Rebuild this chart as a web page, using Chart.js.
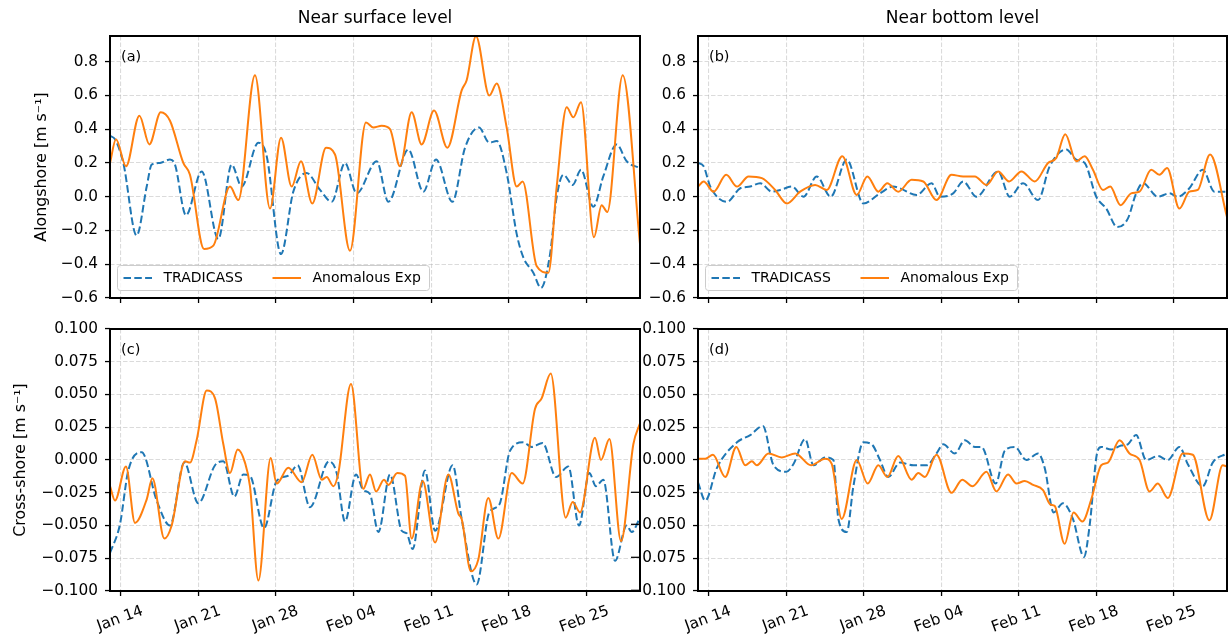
<!DOCTYPE html>
<html>
<head>
<meta charset="utf-8">
<script src="https://cdn.jsdelivr.net/npm/chart.js@4.4.0/dist/chart.umd.min.js"></script>
<style>
  html, body { margin: 0; padding: 0; background: #fff; }
  #fig { position: relative; width: 1228px; height: 637px; overflow: hidden; background: #fff; }
  #fig canvas { position: absolute; }
</style>
</head>
<body>
<div id="fig">
  <canvas id="panelA" width="660" height="320" style="left:0;top:0"></canvas>
  <canvas id="panelB" width="588" height="320" style="left:640px;top:0"></canvas>
  <canvas id="panelC" width="660" height="337" style="left:0;top:300px"></canvas>
  <canvas id="panelD" width="628" height="337" style="left:600px;top:300px"></canvas>
</div>
<script>
// ---- time axis (day of year, Jan 1 = 1) ----
const X_MIN = 13.04;
const X_MAX = 60.83;
const xTickDays = [14, 21, 28, 35, 42, 49, 56];
const xTickLabels = ['Jan 14', 'Jan 21', 'Jan 28', 'Feb 04', 'Feb 11', 'Feb 18', 'Feb 25'];

const alongTicks = [-0.6, -0.4, -0.2, 0, 0.2, 0.4, 0.6, 0.8];
const crossTicks = [-0.1, -0.075, -0.05, -0.025, 0, 0.025, 0.05, 0.075, 0.1];

const seriesNames = ['TRADICASS', 'Anomalous Exp'];

// ---- (a) alongshore, near surface ----
const surfAlongTradDays = [13.04,13.49,14.24,15.44,16.35,16.80,17.55,18.45,18.90,19.89,21.31,22.81,24.01,24.91,26.42,27.17,28.46,29.57,30.77,31.98,33.03,34.23,35.28,37.09,38.14,39.94,41.29,42.44,43.91,45.05,46.31,47.24,47.91,48.81,49.71,50.31,51.21,51.90,52.72,53.32,53.92,54.76,55.51,56.62,57.52,58.73,59.63,60.83];
const surfAlongTradVals = [0.36,0.34,0.20,-0.23,0.06,0.19,0.20,0.22,0.19,-0.11,0.15,-0.25,0.19,0.06,0.32,0.24,-0.34,0.03,0.14,0.04,-0.03,0.20,0.02,0.21,-0.03,0.28,0.03,0.22,-0.03,0.29,0.41,0.32,0.33,0.14,-0.22,-0.36,-0.45,-0.54,-0.34,0.00,0.13,0.07,0.16,-0.06,0.12,0.31,0.21,0.17];
const surfAlongAnomDays = [13.04,13.58,14.48,15.69,16.59,17.61,18.45,19.65,20.25,21.52,22.36,23.86,24.61,26.11,27.47,28.46,29.42,30.26,31.28,32.52,33.33,34.68,36.12,36.79,37.54,38.29,39.19,40.24,41.14,42.26,43.46,44.75,45.20,46.04,47.24,47.91,48.81,49.71,50.25,51.51,52.57,53.32,54.22,54.82,55.51,56.68,57.37,57.88,59.27,60.83];
const surfAlongAnomVals = [0.20,0.34,0.18,0.48,0.31,0.50,0.45,0.20,0.13,-0.31,-0.29,0.06,-0.02,0.72,-0.07,0.35,0.06,0.21,-0.04,0.29,0.25,-0.32,0.44,0.41,0.42,0.40,0.18,0.50,0.31,0.51,0.29,0.63,0.69,0.95,0.60,0.67,0.41,0.06,0.09,-0.41,-0.45,0.06,0.53,0.47,0.56,-0.24,-0.05,-0.09,0.72,-0.28];

// ---- (b) alongshore, near bottom ----
const bottAlongTradDays = [13.04,13.55,14.15,15.66,16.86,17.76,18.66,19.71,20.46,21.52,22.57,23.77,25.03,26.48,27.98,29.48,30.68,31.28,32.79,34.14,34.89,36.09,37.00,38.20,40.15,41.20,42.41,43.76,44.81,46.31,47.21,47.97,49.02,49.92,50.91,51.87,52.62,53.23,54.58,55.63,56.38,57.43,58.64,59.69,60.83];
const bottAlongTradVals = [0.20,0.18,0.06,-0.03,0.05,0.06,0.08,0.03,0.04,0.06,0.00,0.12,0.00,0.22,-0.04,0.02,0.06,0.05,0.01,0.08,0.00,0.02,0.09,0.00,0.15,0.00,0.08,-0.02,0.18,0.28,0.22,0.20,0.00,-0.07,-0.18,-0.13,0.02,0.08,0.00,0.02,0.00,0.05,0.16,0.03,0.03];
const bottAlongAnomDays = [13.04,13.55,14.45,15.59,16.56,17.61,18.81,20.01,21.07,22.27,23.62,24.67,26.08,27.38,28.34,29.33,30.14,31.13,32.34,33.39,34.59,35.94,36.99,38.05,39.10,40.15,41.14,42.26,43.46,44.66,45.41,46.22,47.21,47.97,48.72,49.62,50.28,51.21,52.17,52.93,53.98,54.73,55.42,56.53,57.43,58.19,59.30,60.83];
const bottAlongAnomVals = [0.06,0.09,0.03,0.13,0.06,0.12,0.11,0.04,-0.04,0.03,0.07,0.04,0.24,0.01,0.12,0.03,0.08,0.03,0.10,0.09,-0.02,0.13,0.12,0.12,0.07,0.15,0.09,0.15,0.09,0.20,0.23,0.37,0.21,0.24,0.16,0.04,0.06,-0.05,0.02,0.03,0.16,0.13,0.17,-0.07,0.03,0.04,0.25,-0.12];

// ---- (c) cross-shore, near surface ----
const surfCrossTradDays = [13.04,13.94,14.69,15.90,17.25,18.45,19.74,21.00,22.51,23.26,24.25,25.06,25.66,26.93,28.07,29.12,29.96,31.07,32.79,33.48,34.23,35.22,35.88,36.48,37.24,38.29,39.34,39.79,40.33,41.44,42.35,43.94,44.75,46.10,47.24,48.15,49.11,50.31,51.06,52.05,53.26,54.37,55.33,56.26,56.86,57.52,58.58,59.63,60.08,60.83];
const surfCrossTradVals = [-0.071,-0.049,-0.008,0.006,-0.031,-0.050,-0.002,-0.033,-0.004,-0.001,-0.028,-0.011,-0.012,-0.052,-0.016,-0.012,-0.004,-0.036,-0.001,-0.010,-0.047,-0.011,-0.023,-0.026,-0.055,-0.011,-0.054,-0.056,-0.068,-0.008,-0.054,-0.004,-0.045,-0.095,-0.040,-0.034,0.007,0.0135,0.010,0.013,-0.013,-0.005,-0.050,-0.010,-0.020,-0.015,-0.077,-0.050,-0.055,-0.044];
const surfCrossAnomDays = [13.04,13.49,14.48,15.29,16.35,16.86,17.94,18.60,19.80,20.25,20.85,21.76,22.51,23.26,23.86,24.55,25.21,25.66,26.42,27.53,28.07,29.12,30.32,31.28,32.13,32.58,33.18,33.63,34.77,35.88,36.48,37.03,37.75,38.14,38.95,39.64,40.24,41.23,42.35,43.55,44.45,44.75,45.59,46.25,47.15,48.06,49.26,50.25,51.36,51.96,52.78,54.13,54.76,55.42,56.77,57.31,58.07,59.12,60.23,60.83];
const surfCrossAnomVals = [-0.020,-0.031,-0.005,-0.048,-0.030,-0.014,-0.060,-0.050,-0.001,-0.002,0.015,0.053,0.047,0.012,-0.010,0.008,-0.002,-0.020,-0.092,0.0015,-0.018,-0.006,-0.017,0.004,-0.015,-0.013,-0.020,-0.010,0.058,-0.022,-0.011,-0.024,-0.015,-0.019,-0.010,-0.012,-0.060,-0.016,-0.063,-0.011,-0.041,-0.045,-0.085,-0.076,-0.029,-0.060,-0.010,-0.018,0.039,0.047,0.066,-0.044,-0.032,-0.040,0.017,0.000,0.016,-0.062,0.012,0.028];

// ---- (d) cross-shore, near bottom ----
const bottCrossTradDays = [13.04,13.70,14.75,16.56,17.76,18.90,19.86,21.01,21.67,22.72,23.47,24.52,25.27,25.72,26.48,27.08,27.98,28.73,29.48,30.23,31.28,32.49,33.69,34.59,35.19,36.24,37.15,38.05,38.65,39.94,40.75,41.65,42.71,43.76,44.36,45.17,46.01,46.91,47.91,48.42,49.11,49.47,50.37,51.27,51.87,52.62,53.53,54.58,55.48,56.53,57.28,58.64,59.54,60.83];
const bottCrossTradVals = [-0.017,-0.031,-0.006,0.0135,0.019,0.026,-0.004,-0.009,-0.003,0.016,-0.004,0.002,0.000,-0.045,-0.055,-0.020,0.0135,0.012,0.000,-0.013,-0.002,-0.004,-0.004,0.005,0.012,0.005,0.015,0.010,0.010,-0.018,0.007,0.010,0.000,0.005,-0.006,-0.040,-0.033,-0.045,-0.074,-0.050,0.006,0.010,0.008,0.011,0.012,0.019,0.000,0.003,0.000,0.010,-0.003,-0.020,-0.002,0.005];
const bottCrossAnomDays = [13.04,13.70,14.39,15.50,16.50,17.31,17.91,18.36,19.41,20.61,21.82,23.25,24.52,25.12,26.02,27.38,28.37,29.33,30.14,31.13,32.34,32.94,33.54,34.59,35.94,36.91,37.84,39.10,40.00,41.05,41.81,42.56,43.31,44.21,44.87,45.26,46.16,46.97,47.76,48.57,49.47,50.07,51.12,52.02,52.93,53.83,54.58,55.48,56.83,57.74,59.24,60.44,60.83];
const bottCrossAnomVals = [0.001,0.001,0.004,-0.013,0.010,-0.004,-0.001,-0.004,0.005,0.002,0.005,-0.004,0.001,-0.003,-0.045,0.000,-0.018,-0.004,-0.013,0.003,-0.015,-0.010,-0.013,0.004,-0.025,-0.015,-0.020,-0.009,-0.024,-0.011,-0.018,-0.016,-0.019,-0.023,-0.034,-0.035,-0.064,-0.040,-0.047,-0.030,-0.004,-0.002,0.015,0.005,0.000,-0.024,-0.018,-0.029,0.005,0.004,-0.046,-0.004,-0.005];

const BLUE = '#1f77b4';
const ORANGE = '#ff7f0e';
const GRID = 'rgba(176,176,176,0.45)';
const FONT = 'DejaVu Sans';

Chart.defaults.font.family = FONT;
Chart.defaults.color = '#000';

// frame, panel tag and the in-axes legend
const panelDecor = {
  id: 'panelDecor',
  afterDraw(chart, args, opts) {
    const { ctx, chartArea: a } = chart;
    ctx.save();
    if (opts.legend) {
      const bx = a.left + 7.5, by = a.bottom - 32.5, bw = 312, bh = 25;
      ctx.beginPath();
      if (ctx.roundRect) ctx.roundRect(bx, by, bw, bh, 3); else ctx.rect(bx, by, bw, bh);
      ctx.fillStyle = 'rgba(255,255,255,0.8)';
      ctx.fill();
      ctx.strokeStyle = '#cccccc';
      ctx.lineWidth = 1;
      ctx.stroke();
      const cy = by + bh / 2;
      const slots = [6, 155];
      chart.data.datasets.forEach((ds, i) => {
        const x0 = bx + slots[i];
        ctx.strokeStyle = ds.borderColor;
        ctx.lineWidth = ds.borderWidth;
        ctx.setLineDash(ds.borderDash || []);
        ctx.beginPath();
        ctx.moveTo(x0, cy);
        ctx.lineTo(x0 + 28.5, cy);
        ctx.stroke();
        ctx.setLineDash([]);
        ctx.fillStyle = '#000';
        ctx.font = '14px "' + FONT + '"';
        ctx.textAlign = 'left';
        ctx.textBaseline = 'middle';
        ctx.fillText(ds.label, x0 + 40, cy + 0.5);
      });
    }
    ctx.strokeStyle = '#000';
    ctx.lineWidth = 2;
    ctx.setLineDash([]);
    ctx.strokeRect(a.left, a.top, a.right - a.left, a.bottom - a.top);
    ctx.fillStyle = '#000';
    ctx.font = '14.5px "' + FONT + '"';
    ctx.textAlign = 'left';
    ctx.textBaseline = 'middle';
    ctx.fillText(opts.tag, a.left + 11, a.top + 21.5);
    ctx.restore();
  }
};

function line(label, days, vals, color, dash) {
  return {
    label,
    data: days.map((d, i) => ({ x: d, y: vals[i] })),
    borderColor: color,
    borderWidth: 2,
    borderDash: dash,
    pointRadius: 0,
    fill: false,
    cubicInterpolationMode: 'monotone',
    order: dash.length ? 1 : 0
  };
}

const gridOpts = { color: GRID, lineWidth: 1.1, tickColor: '#000', tickWidth: 1.3, tickLength: 5, tickBorderDash: [] };
const borderOpts = { display: false, dash: [4.5, 2] };

function xScale(showLabels, height) {
  return {
    type: 'linear',
    min: X_MIN,
    max: X_MAX,
    afterBuildTicks: ax => { ax.ticks = xTickDays.map(v => ({ value: v })); },
    afterFit: ax => { ax.height = height; },
    grid: gridOpts,
    border: borderOpts,
    ticks: {
      display: showLabels,
      autoSkip: false,
      minRotation: 20,
      maxRotation: 20,
      labelOffset: 22,
      padding: 6,
      font: { size: 15.3 },
      callback: (v, i) => xTickLabels[i]
    }
  };
}

function yScale(tickVals, min, max, decimals, width, title, titlePad) {
  return {
    type: 'linear',
    min,
    max,
    afterBuildTicks: ax => { ax.ticks = tickVals.map(v => ({ value: v })); },
    afterFit: ax => { ax.width = width; },
    grid: gridOpts,
    border: borderOpts,
    ticks: {
      padding: 7,
      font: { size: 15.3 },
      callback: v => v.toFixed(decimals).replace('-', '\u2212')
    },
    title: title
      ? { display: true, text: title, font: { size: 15.8 }, padding: { top: titlePad, bottom: 0 } }
      : { display: false }
  };
}

function makePanel(id, cfg) {
  return new Chart(document.getElementById(id), {
    type: 'line',
    data: {
      datasets: [
        line(seriesNames[0], cfg.tradDays, cfg.tradVals, BLUE, [7.5, 3.3]),
        line(seriesNames[1], cfg.anomDays, cfg.anomVals, ORANGE, [])
      ]
    },
    options: {
      responsive: false,
      animation: false,
      devicePixelRatio: 1,
      layout: { padding: cfg.padding },
      scales: { x: cfg.x, y: cfg.y },
      plugins: {
        legend: { display: false },
        tooltip: { enabled: false },
        title: cfg.title
          ? { display: true, text: cfg.title, fullSize: false, color: '#000',
              font: { size: 17, weight: 'normal' }, padding: { top: 8, bottom: 7.6 } }
          : { display: false },
        panelDecor: { tag: cfg.tag, legend: cfg.legend }
      }
    },
    plugins: [panelDecor]
  });
}

makePanel('panelA', {
  tag: '(a)', legend: true, title: 'Near surface level',
  tradDays: surfAlongTradDays, tradVals: surfAlongTradVals,
  anomDays: surfAlongAnomDays, anomVals: surfAlongAnomVals,
  padding: { top: 0, right: 20, bottom: 0, left: 0 },
  x: xScale(false, 22),
  y: yScale(alongTicks, -0.6, 0.952, 1, 110, 'Alongshore [m s\u207B\u00B9]', 32.4)
});

makePanel('panelB', {
  tag: '(b)', legend: true, title: 'Near bottom level',
  tradDays: bottAlongTradDays, tradVals: bottAlongTradVals,
  anomDays: bottAlongAnomDays, anomVals: bottAlongAnomVals,
  padding: { top: 0, right: 1, bottom: 0, left: 0 },
  x: xScale(false, 22),
  y: yScale(alongTicks, -0.6, 0.952, 1, 58, null, 0)
});

makePanel('panelC', {
  tag: '(c)', legend: false, title: null,
  tradDays: surfCrossTradDays, tradVals: surfCrossTradVals,
  anomDays: surfCrossAnomDays, anomVals: surfCrossAnomVals,
  padding: { top: 29, right: 20, bottom: 0, left: 0 },
  x: xScale(true, 46),
  y: yScale(crossTicks, -0.1, 0.1, 3, 110, 'Cross-shore [m s\u207B\u00B9]', 11.2)
});

makePanel('panelD', {
  tag: '(d)', legend: false, title: null,
  tradDays: bottCrossTradDays, tradVals: bottCrossTradVals,
  anomDays: bottCrossAnomDays, anomVals: bottCrossAnomVals,
  padding: { top: 29, right: 1, bottom: 0, left: 0 },
  x: xScale(true, 46),
  y: yScale(crossTicks, -0.1, 0.1, 3, 98, null, 0)
});
</script>
</body>
</html>
